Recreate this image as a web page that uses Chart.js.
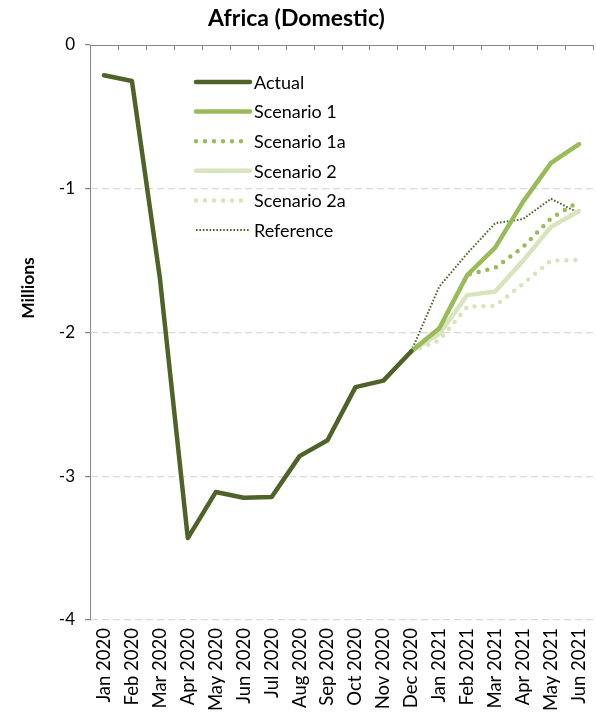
<!DOCTYPE html>
<html>
<head>
<meta charset="utf-8">
<script src="https://cdn.jsdelivr.net/npm/chart.js@4"></script>
<style>
  html, body { margin: 0; padding: 0; background: #fff; }
  #wrap { width: 596px; height: 713px; position: relative; }
</style>
</head>
<body>
<div id="wrap"><canvas id="myChart"></canvas></div>
<script>
const monthLabels = ['Jan 2020', 'Feb 2020', 'Mar 2020', 'Apr 2020', 'May 2020', 'Jun 2020', 'Jul 2020', 'Aug 2020', 'Sep 2020',
  'Oct 2020', 'Nov 2020', 'Dec 2020', 'Jan 2021', 'Feb 2021', 'Mar 2021', 'Apr 2021', 'May 2021', 'Jun 2021'];

const actual = [-0.21, -0.25, -1.62, -3.43, -3.11, -3.15, -3.145, -2.86, -2.75, -2.38, -2.335, -2.13,
  null, null, null, null, null, null];
const scenario1 = [null, null, null, null, null, null, null, null, null, null, null, -2.13,
  -1.97, -1.60, -1.41, -1.09, -0.82, -0.69];
const scenario1a = [null, null, null, null, null, null, null, null, null, null, null, -2.13,
  -1.97, -1.60, -1.55, -1.405, -1.205, -1.09];
const scenario2 = [null, null, null, null, null, null, null, null, null, null, null, -2.13,
  -2.01, -1.74, -1.715, -1.50, -1.265, -1.155];
const scenario2a = [null, null, null, null, null, null, null, null, null, null, null, -2.13,
  -2.055, -1.82, -1.815, -1.66, -1.50, -1.495];
const reference = [null, null, null, null, null, null, null, null, null, null, null, -2.13,
  -1.68, -1.45, -1.24, -1.21, -1.07, -1.17];

const darkGreen = '#4f6228';
const midGreen = '#9bbb59';
const paleGreen = '#d7e4bd';
const fontFamily = 'Lato, "Open Sans", sans-serif';

// legend drawn inside the plot area, Excel style
const insideLegend = {
  id: 'insideLegend',
  afterDraw(chart) {
    const { ctx } = chart;
    const x0 = 196, y0 = 82, rowGap = 29.6, sampleLen = 54;
    ctx.save();
    chart.data.datasets.forEach((ds, i) => {
      const y = y0 + i * rowGap;
      ctx.beginPath();
      ctx.strokeStyle = ds.borderColor;
      ctx.lineWidth = ds.borderWidth;
      ctx.lineCap = ds.borderCapStyle || 'round';
      ctx.setLineDash(ds.borderDash || []);
      ctx.moveTo(x0, y);
      ctx.lineTo(x0 + sampleLen, y);
      ctx.stroke();
      ctx.setLineDash([]);
      ctx.fillStyle = '#000';
      ctx.font = '18px ' + fontFamily;
      ctx.textBaseline = 'middle';
      ctx.textAlign = 'left';
      ctx.fillText(ds.label, x0 + sampleLen + 4, y + 1);
    });
    ctx.restore();
  }
};

// horizontal category axis sits on the zero line, ticks pointing down
const zeroAxis = {
  id: 'zeroAxis',
  afterDatasetsDraw(chart) {
    const { ctx, scales } = chart;
    const xs = scales.x, ys = scales.y;
    const yZero = ys.getPixelForValue(0);
    const half = (xs.getPixelForValue(1) - xs.getPixelForValue(0)) / 2;
    ctx.save();
    ctx.strokeStyle = '#868686';
    ctx.lineWidth = 1;
    ctx.beginPath();
    ctx.moveTo(xs.left, yZero + 0.5);
    ctx.lineTo(xs.right, yZero + 0.5);
    for (let i = 0; i <= monthLabels.length; i++) {
      const px = Math.round(xs.getPixelForValue(i) - half) + 0.5;
      ctx.moveTo(px, yZero);
      ctx.lineTo(px, yZero + 5);
    }
    ctx.stroke();
    ctx.restore();
  }
};

const yTitle = {
  id: 'yTitle',
  afterDraw(chart) {
    const { ctx } = chart;
    ctx.save();
    ctx.translate(28, 288);
    ctx.rotate(-Math.PI / 2);
    ctx.fillStyle = '#000';
    ctx.font = 'bold 17.5px ' + fontFamily;
    ctx.textAlign = 'center';
    ctx.textBaseline = 'middle';
    ctx.fillText('Millions', 0, 0);
    ctx.restore();
  }
};

function lineSet(label, data, color, width, dash, cap) {
  return {
    label: label,
    data: data,
    borderColor: color,
    backgroundColor: color,
    borderWidth: width,
    borderDash: dash,
    borderCapStyle: cap,
    borderJoinStyle: 'round',
    pointRadius: 0,
    tension: 0,
    spanGaps: false
  };
}

new Chart(document.getElementById('myChart'), {
  type: 'line',
  data: {
    labels: monthLabels,
    datasets: [
      lineSet('Actual', actual, darkGreen, 4.5, [], 'round'),
      lineSet('Scenario 1', scenario1, midGreen, 4.5, [], 'round'),
      lineSet('Scenario 1a', scenario1a, midGreen, 4.5, [0, 9], 'round'),
      lineSet('Scenario 2', scenario2, paleGreen, 4.5, [], 'round'),
      lineSet('Scenario 2a', scenario2a, paleGreen, 4.5, [0, 9], 'round'),
      lineSet('Reference', reference, darkGreen, 2, [1.6, 1.8], 'butt')
    ]
  },
  options: {
    responsive: true,
    maintainAspectRatio: false,
    animation: false,
    layout: { padding: { left: 0, right: 3, top: 0, bottom: 0 } },
    plugins: {
      legend: { display: false },
      tooltip: { enabled: false },
      title: {
        display: true,
        text: 'Africa (Domestic)',
        color: '#000',
        font: { family: fontFamily, size: 23, weight: 'bold', lineHeight: 1.2 },
        padding: { top: 5, bottom: 12.4 }
      }
    },
    scales: {
      x: {
        type: 'category',
        offset: true,
        grid: { display: false, drawTicks: false },
        border: { display: false },
        ticks: {
          color: '#000',
          font: { family: fontFamily, size: 18.5 },
          minRotation: 90,
          maxRotation: 90,
          autoSkip: false,
          padding: 8
        },
        afterFit(scale) {
          scale.height = 93;
          scale.paddingLeft = 0;
          scale.paddingRight = 0;
        }
      },
      y: {
        min: -4,
        max: 0,
        ticks: {
          stepSize: 1,
          color: '#000',
          font: { family: fontFamily, size: 17 },
          padding: 10
        },
        grid: {
          color: ctx => ctx.tick && ctx.tick.value === 0 ? 'rgba(0,0,0,0)' : '#d9d9d9',
          lineWidth: 1.25,
          tickColor: '#868686',
          tickLength: 5,
          tickBorderDash: []
        },
        border: { display: true, color: '#868686', width: 1, dash: [7, 4] },
        afterFit(scale) {
          scale.width = 90;
        }
      }
    }
  },
  plugins: [zeroAxis, insideLegend, yTitle]
});
</script>
</body>
</html>
